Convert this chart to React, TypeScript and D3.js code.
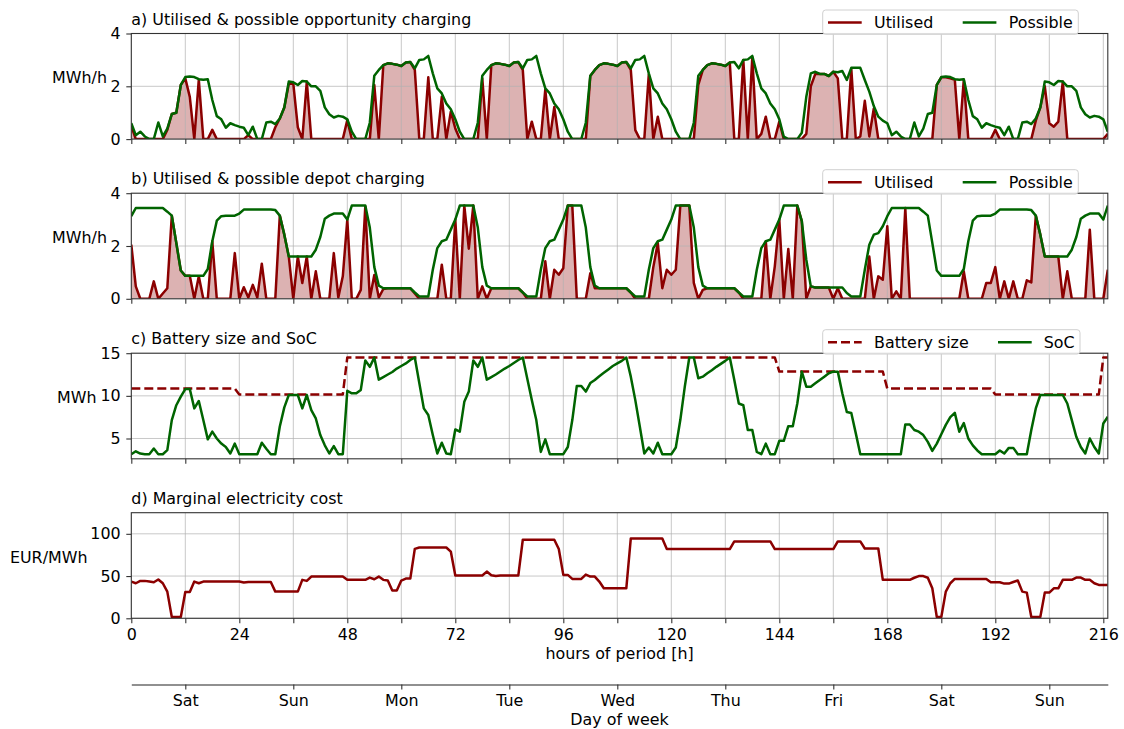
import React, { useEffect, useRef } from 'react';
import * as d3 from 'd3';

// ---------- data (hourly, hour 0 = Saturday 00:00) ----------
const hours = d3.range(218);

// possible opportunity charging, one profile per kind of day [MWh/h]
const possOppSat = [0.6, 0.15, 0.28, 0.1, 0, 0, 0.63, 0.1, 0.4, 0.95, 1.0, 2.05, 2.35, 2.37, 2.35, 2.27, 2.25, 2.27, 1.48, 0.87, 0.75, 0.43, 0.6, 0.53];
const possOppSun = [0.47, 0.43, 0.15, 0.47, 0, 0, 0.63, 0.66, 0.57, 0.78, 1.2, 2.18, 2.15, 2.05, 2.2, 2.18, 2.0, 2.0, 1.83, 1.2, 0.94, 0.82, 0.88, 0.85];
const possOppWkd = [0.75, 0.28, 0, 0, 0, 0.62, 2.4, 2.62, 2.8, 2.87, 2.85, 2.82, 2.77, 2.9, 2.92, 2.68, 3.0, 3.02, 3.15, 2.49, 1.92, 1.73, 1.35, 1.13];
const possOppFri = [0.75, 0.09, 0, 0, 0, 0.24, 1.6, 2.49, 2.55, 2.47, 2.47, 2.39, 2.55, 2.53, 2.58, 2.24, 2.7, 2.7, 2.7, 2.24, 1.8, 1.25, 0.85, 0.7];

// possible depot charging profiles [MWh/h]
const possDepSat = [3.13, 3.44, 3.44, 3.44, 3.44, 3.44, 3.44, 3.44, 3.3, 3.15, 2.12, 1.07, 0.87, 0.87, 0.87, 0.87, 0.87, 1.13, 2.18, 2.96, 3.13, 3.15, 3.15, 3.15];
const possDepSun = [3.23, 3.38, 3.38, 3.38, 3.38, 3.38, 3.38, 3.38, 3.36, 3.15, 2.43, 1.6, 1.6, 1.6, 1.6, 1.6, 1.6, 1.86, 2.34, 3.03, 3.15, 3.23, 3.23, 3.23];
const possDepWkd = [3.0, 3.53, 3.53, 3.53, 3.53, 2.7, 1.2, 0.5, 0.4, 0.4, 0.4, 0.4, 0.4, 0.4, 0.4, 0.24, 0.09, 0.09, 0.09, 1.1, 1.92, 2.18, 2.24, 2.62];
const possDepFri = [3.0, 3.53, 3.53, 3.53, 3.53, 2.94, 1.48, 0.47, 0.43, 0.43, 0.43, 0.43, 0.43, 0.43, 0.43, 0.22, 0.09, 0.09, 0.09, 1.1, 2.05, 2.43, 2.49, 2.75];

// which profile each day of the period uses
const dayKinds = ['sat', 'sun', 'wkd', 'wkd', 'wkd', 'wkd', 'fri', 'sat', 'sun', 'wkd'];
// battery size per day [MWh]
const batteryByDay = [10.85, 10.15, 14.5, 14.5, 14.5, 14.5, 12.85, 10.85, 10.15, 14.5];

const utilOpp = [
  0.5, 0, 0, 0, 0, 0, 0, 0, 0.35, 0.95, 1.0, 2.05, 2.3, 1.6, 0, 2.25, 0, 0, 0.35, 0, 0, 0, 0, 0,
  0, 0, 0.15, 0, 0, 0, 0, 0, 0.45, 0.78, 1.2, 2.1, 2.1, 0.45, 0, 2.18, 0, 0, 0, 0, 0, 0, 0, 0,
  0.72, 0, 0, 0, 0, 0, 2.05, 0, 2.8, 2.87, 2.85, 2.82, 2.77, 2.9, 2.92, 2.62, 0, 0, 2.34, 0, 0, 1.6, 0, 1.04,
  0.4, 0, 0, 0, 0, 0, 2.3, 0, 2.8, 2.87, 2.85, 2.82, 2.77, 2.9, 2.92, 2.62, 0, 0.66, 0, 0, 1.88, 0, 1.22, 0,
  0, 0, 0, 0, 0, 0, 2.39, 2.62, 2.8, 2.87, 2.85, 2.82, 2.77, 2.9, 2.92, 2.62, 0.34, 0, 0, 2.45, 0, 0.85, 0, 0,
  0, 0, 0, 0, 0, 0, 2.05, 2.62, 2.8, 2.87, 2.85, 2.82, 2.77, 2.9, 0, 0, 3.0, 0, 3.1, 0, 0.2, 0.85, 0, 0,
  0.66, 0, 0, 0, 0, 0, 0.2, 2.0, 2.47, 2.47, 2.47, 2.39, 2.55, 2.3, 0, 0, 2.66, 0, 0.1, 1.45, 0.1, 1.16, 0, 0,
  0, 0, 0, 0, 0, 0, 0, 0, 0, 0, 0, 2.05, 2.34, 2.34, 2.3, 2.25, 0, 2.25, 0, 0, 0, 0, 0, 0,
  0.35, 0, 0, 0, 0, 0, 0, 0, 0, 0.7, 1.2, 2.0, 0.6, 0.47, 0.66, 2.18, 0, 0, 0, 0, 0, 0, 0, 0,
  0, 0.2,
];

const utilDep = [
  2.05, 0.47, 0, 0, 0, 0.66, 0, 0.2, 0.4, 3.15, 2.11, 1.07, 0.87, 0.87, 0, 0.85, 0, 0, 2.18, 0, 0, 0, 0, 1.73,
  0, 0.44, 0.05, 0.53, 0.05, 1.33, 0, 0, 0, 3.15, 2.43, 1.6, 0, 1.6, 0.6, 1.6, 0, 1.04, 0, 0, 0, 1.73, 0.05, 0.85,
  3.0, 0, 0, 0.34, 3.5, 0, 0.9, 0.05, 0.37, 0.4, 0.4, 0.4, 0.4, 0.4, 0.4, 0.2, 0, 0, 0, 0, 0, 1.29, 0, 0,
  3.0, 0, 3.53, 1.9, 3.53, 0, 0.47, 0, 0.4, 0.4, 0.4, 0.4, 0.4, 0.4, 0.4, 0.24, 0, 0, 0, 0, 1.42, 0, 1.1, 0.91,
  1.16, 3.53, 3.53, 0, 0, 0, 0.97, 0.4, 0.4, 0.4, 0.4, 0.4, 0.4, 0.4, 0.4, 0.24, 0, 0, 0, 0, 1.2, 2.11, 0.4, 1.1,
  0.91, 1.1, 3.53, 3.53, 3.53, 0.6, 0, 0.34, 0.4, 0.4, 0.4, 0.4, 0.4, 0.4, 0.4, 0.24, 0, 0, 0, 0, 0, 2.18, 0, 1.23,
  3.0, 0, 1.89, 0, 3.53, 2.94, 0, 0.47, 0.43, 0.43, 0.43, 0.43, 0, 0.4, 0, 0, 0, 0, 0, 0, 1.6, 0, 0.85, 0.72,
  2.75, 0, 0.28, 0, 3.44, 0, 0, 0, 0, 0, 0, 0, 0, 0, 0, 0, 0, 1.04, 0, 0, 0, 0, 0.6, 0.6,
  1.2, 0, 0.66, 0, 0.66, 0, 0, 0.7, 0.62, 3.15, 2.43, 1.6, 1.6, 1.6, 1.6, 0, 1.04, 0, 0, 0, 0, 2.62, 0, 0,
  0, 1.1,
];

const soc = [
  3.16, 3.5, 3.24, 3.16, 3.16, 3.82, 3.16, 3.16, 3.63, 7.16, 8.9, 9.9, 10.8, 10.8, 8.53, 9.4, 7.16, 4.9, 5.8, 5.0, 4.4, 4.0, 3.24, 4.4,
  3.16, 3.16, 3.16, 3.16, 3.16, 4.5, 3.8, 3.16, 3.16, 6.4, 8.65, 10.1, 10.1, 10.1, 8.53, 10.1, 8.33, 7.35, 5.4, 4.2, 3.24, 4.1, 3.16, 3.16,
  10.6, 10.3, 10.3, 10.7, 14.14, 13.4, 14.5, 11.9, 12.2, 12.5, 12.8, 13.2, 13.5, 13.8, 14.2, 14.5, 11.5, 8.53, 7.75, 5.4, 3.24, 4.5, 3.24, 3.16,
  6.06, 5.8, 9.3, 10.5, 14.14, 13.4, 14.5, 11.9, 12.2, 12.5, 12.85, 13.2, 13.5, 13.85, 14.2, 14.5, 12.0, 9.5, 7.16, 3.43, 4.9, 3.16, 3.16, 3.16,
  3.16, 4.0, 7.16, 11.16, 11.16, 10.5, 11.5, 11.86, 12.3, 12.7, 13.1, 13.5, 13.8, 14.1, 14.5, 12.25, 9.5, 6.4, 3.24, 3.94, 3.24, 4.5, 3.16, 3.16,
  3.16, 3.94, 7.16, 11.08, 14.5, 14.5, 12.06, 12.25, 12.65, 13.0, 13.4, 13.75, 14.1, 14.5, 11.86, 9.1, 8.9, 6.0, 6.0, 3.43, 3.16, 4.4, 3.16, 3.16,
  4.73, 4.73, 6.45, 6.45, 9.1, 12.84, 11.08, 11.08, 11.47, 11.86, 12.25, 12.65, 12.84, 12.84, 10.3, 8.1, 8.0, 5.6, 3.16, 3.16, 3.16, 3.16, 3.16, 3.16,
  3.16, 3.16, 3.16, 3.16, 6.65, 6.65, 6.0, 5.8, 5.4, 4.6, 3.55, 4.4, 5.5, 6.6, 7.5, 8.0, 5.8, 6.8, 5.0, 4.2, 3.6, 3.16, 3.16, 3.16,
  3.16, 3.6, 3.24, 3.9, 3.9, 3.16, 3.16, 3.16, 6.0, 8.53, 10.1, 10.1, 10.1, 10.1, 10.1, 10.1, 9.1, 7.16, 5.2, 4.0, 3.24, 5.0, 4.0, 3.24,
  6.76, 7.55,
];

const cost = [
  43.5, 41.5, 44.3, 44.3, 43.5, 42.7, 46, 41.5, 31.6, 1.5, 1.5, 1.5, 31.2, 31.2, 43.5, 41.5, 43.5, 43.5, 43.5, 43.5, 43.5, 43.5, 43.5, 43.5,
  43.5, 42.3, 43, 43, 43, 43, 43, 43, 31.6, 31.6, 31.6, 31.6, 31.6, 31.6, 45.5, 44.3, 49.4, 49.4, 49.4, 49.4, 49.4, 49.4, 49.4, 49.4,
  45.5, 45.5, 45.5, 45.5, 45.5, 48.2, 46.2, 49.4, 45.5, 44.7, 32.8, 32.8, 44.7, 47, 47, 82.2, 83.8, 83.8, 83.8, 83.8, 83.8, 83.8, 83.8, 79,
  50.6, 50.6, 50.6, 50.6, 50.6, 50.6, 50.6, 55.3, 51, 50, 50.6, 50.6, 50.6, 50.6, 50.6, 93, 93, 93, 93, 93, 93, 93, 93, 82,
  51.4, 51.4, 46.6, 46.6, 46.6, 51.8, 49.4, 49.4, 43.5, 35.5, 35.5, 35.5, 35.5, 35.5, 35.5, 94.5, 94.5, 94.5, 94.5, 94.5, 94.5, 94.5, 94.5, 82,
  82, 82, 82, 82, 82, 82, 82, 82, 82, 82, 82, 82, 82, 82, 91, 91, 91, 91, 91, 91, 91, 91, 91, 82,
  82, 82, 82, 82, 82, 82, 82, 82, 82, 82, 82, 82, 82, 91, 91, 91, 91, 91, 91, 82.6, 82.6, 82.6, 82.6, 45.5,
  45.5, 45.5, 45.5, 45.5, 45.5, 45.5, 48, 50, 50, 48, 35.5, 1.5, 1.5, 31.6, 41.5, 46.6, 46.6, 46.6, 46.6, 46.6, 46.6, 46.6, 46.6, 42.7,
  42.7, 42.7, 41.1, 41.1, 43, 44.7, 31.6, 30.4, 1.5, 1.5, 1.5, 30.4, 30.4, 35.5, 35.5, 45.5, 45.5, 45.5, 48.2, 48.2, 45.5, 45.5, 41.5, 39.5,
  39.5, 39.5,
];

const dayNames = ['Sat', 'Sun', 'Mon', 'Tue', 'Wed', 'Thu', 'Fri', 'Sat', 'Sun'];

const oppProfiles: Record<string, number[]> = { sat: possOppSat, sun: possOppSun, wkd: possOppWkd, fri: possOppFri };
const depProfiles: Record<string, number[]> = { sat: possDepSat, sun: possDepSun, wkd: possDepWkd, fri: possDepFri };
const possOpp = hours.map(h => oppProfiles[dayKinds[Math.floor(h / 24)]][h % 24]);
const possDep = hours.map(h => depProfiles[dayKinds[Math.floor(h / 24)]][h % 24]);
const battery = hours.map(h => batteryByDay[Math.floor(h / 24)]);

const RED = '#8b0000';
const GREEN = '#006400';
const FONT = '"DejaVu Sans", Verdana, sans-serif';
const FS = 15.9;

const App = () => {
  const svgRef = useRef<SVGSVGElement>(null);

  useEffect(() => {
    const svg = d3.select(svgRef.current);
    svg.selectAll('*').remove();

    const X0 = 131.3;
    const X1 = 1107.8;
    const PH = 105.6;
    const x = d3.scaleLinear().domain([0, 217]).range([X0, X1]);
    const xTicks = d3.range(0, 217, 12);

    const panels = [
      {
        top: 33.5, domain: [0, 4], ticks: [0, 2, 4], title: 'a) Utilised & possible opportunity charging',
        ylabel: 'MWh/h', labelRight: 107, fill: utilOpp,
        series: [{ v: utilOpp, c: RED, dash: null }, { v: possOpp, c: GREEN, dash: null }],
        legend: { labels: ['Utilised', 'Possible'], right: 1078.3, text2: 1008.7, line2: 962.7 },
      },
      {
        top: 193.2, domain: [0, 4], ticks: [0, 2, 4], title: 'b) Utilised & possible depot charging',
        ylabel: 'MWh/h', labelRight: 107, fill: utilDep,
        series: [{ v: utilDep, c: RED, dash: null }, { v: possDep, c: GREEN, dash: null }],
        legend: { labels: ['Utilised', 'Possible'], right: 1078.3, text2: 1008.7, line2: 962.7 },
      },
      {
        top: 353.2, domain: [2.62, 15], ticks: [5, 10, 15], title: 'c) Battery size and SoC',
        ylabel: 'MWh', labelRight: 96.5, fill: null,
        series: [{ v: battery, c: RED, dash: '9,4' }, { v: soc, c: GREEN, dash: null }],
        legend: { labels: ['Battery size', 'SoC'], right: 1080, text2: 1043.7, line2: 998 },
      },
      {
        top: 512.7, domain: [0, 125], ticks: [0, 50, 100], title: 'd) Marginal electricity cost',
        ylabel: 'EUR/MWh', labelRight: 87.5, fill: null,
        series: [{ v: cost, c: RED, dash: null }],
        legend: null,
      },
    ];

    panels.forEach((p, i) => {
      const y = d3.scaleLinear().domain(p.domain).range([p.top + PH, p.top]);
      const g = svg.append('g');
      const clipId = `clip-${i}`;
      svg.append('clipPath').attr('id', clipId)
        .append('rect').attr('x', X0).attr('y', p.top).attr('width', X1 - X0).attr('height', PH);
      const plot = g.append('g').attr('clip-path', `url(#${clipId})`);

      if (p.fill) {
        const vals = p.fill;
        plot.append('path').datum(hours)
          .attr('d', d3.area<number>().x(h => x(h)).y0(y(0)).y1(h => y(vals[h])))
          .attr('fill', RED).attr('fill-opacity', 0.3);
      }

      // grid
      plot.append('g').selectAll('line').data(xTicks).enter().append('line')
        .attr('x1', d => x(d)).attr('x2', d => x(d)).attr('y1', p.top).attr('y2', p.top + PH)
        .attr('stroke', '#b0b0b0').attr('stroke-opacity', 0.7).attr('stroke-width', 1);
      plot.append('g').selectAll('line').data(p.ticks).enter().append('line')
        .attr('x1', X0).attr('x2', X1).attr('y1', d => y(d)).attr('y2', d => y(d))
        .attr('stroke', '#b0b0b0').attr('stroke-opacity', 0.7).attr('stroke-width', 1);

      p.series.forEach(s => {
        const vals = s.v;
        plot.append('path').datum(hours)
          .attr('d', d3.line<number>().x(h => x(h)).y(h => y(vals[h])))
          .attr('fill', 'none').attr('stroke', s.c).attr('stroke-width', 2.5)
          .attr('stroke-linejoin', 'round')
          .attr('stroke-dasharray', s.dash);
      });

      // frame
      g.append('rect').attr('x', X0).attr('y', p.top).attr('width', X1 - X0).attr('height', PH)
        .attr('fill', 'none').attr('stroke', '#333').attr('stroke-width', 1.1);

      // axes
      const yAxis = g.append('g').attr('transform', `translate(${X0},0)`)
        .call(d3.axisLeft(y).tickValues(p.ticks).tickSize(5).tickPadding(5.6).tickFormat(d3.format('d')));
      const xAxis = g.append('g').attr('transform', `translate(0,${p.top + PH})`)
        .call(d3.axisBottom(x).tickValues(xTicks).tickSize(5).tickPadding(5.6)
          .tickFormat(d => (i === 3 && (d as number) % 24 === 0 ? String(d) : '')));
      [yAxis, xAxis].forEach(ax => {
        ax.select('.domain').remove();
        ax.selectAll('line').attr('stroke', '#333').attr('stroke-width', 1.1);
        ax.selectAll('text').attr('font-family', FONT).attr('font-size', FS).attr('fill', '#000');
      });

      // title + y label
      g.append('text').attr('x', X0).attr('y', p.top - 9)
        .attr('font-family', FONT).attr('font-size', FS).text(p.title);
      g.append('text').attr('x', p.labelRight).attr('y', p.top + PH / 2 - 3)
        .attr('text-anchor', 'end').attr('font-family', FONT).attr('font-size', FS).text(p.ylabel);

      // legend
      if (p.legend) {
        const L = p.legend;
        const lg = g.append('g');
        lg.append('rect').attr('x', 822.7).attr('y', p.top - 23.5)
          .attr('width', L.right - 822.7).attr('height', 24.3).attr('rx', 3)
          .attr('fill', '#fff').attr('fill-opacity', 0.85).attr('stroke', '#d0d0d0').attr('stroke-width', 1);
        const ly = p.top - 11;
        const items = [
          { x1: 828, text: 874, s: p.series[0] },
          { x1: L.line2, text: L.text2, s: p.series[1] },
        ];
        items.forEach((it, k) => {
          lg.append('line').attr('x1', it.x1).attr('x2', it.x1 + 33.7).attr('y1', ly).attr('y2', ly)
            .attr('stroke', it.s.c).attr('stroke-width', 2.5).attr('stroke-dasharray', it.s.dash);
          lg.append('text').attr('x', it.text).attr('y', p.top - 5.2)
            .attr('font-family', FONT).attr('font-size', FS).text(L.labels[k]);
        });
      }
    });

    // x label of bottom panel
    svg.append('text').attr('x', (X0 + X1) / 2).attr('y', 658.5).attr('text-anchor', 'middle')
      .attr('font-family', FONT).attr('font-size', FS).text('hours of period [h]');

    // secondary axis: day of week
    const dayTicks = dayNames.map((_, k) => 12 + 24 * k);
    const dayAxis = svg.append('g').attr('transform', 'translate(0,684.5)')
      .call(d3.axisBottom(x).tickValues(dayTicks).tickSize(5).tickSizeOuter(0).tickPadding(5.6)
        .tickFormat((_, k) => dayNames[k]));
    dayAxis.select('.domain').attr('stroke', '#222').attr('stroke-width', 1.2);
    dayAxis.selectAll('line').attr('stroke', '#333').attr('stroke-width', 1.1);
    dayAxis.selectAll('text').attr('font-family', FONT).attr('font-size', FS).attr('fill', '#000');
    svg.append('text').attr('x', (X0 + X1) / 2).attr('y', 725).attr('text-anchor', 'middle')
      .attr('font-family', FONT).attr('font-size', FS).text('Day of week');
  }, []);

  return (
    <svg ref={svgRef} width={1124} height={729}
      style={{ position: 'absolute', left: 0, top: 0, background: '#fff' }} />
  );
};

export default App;
